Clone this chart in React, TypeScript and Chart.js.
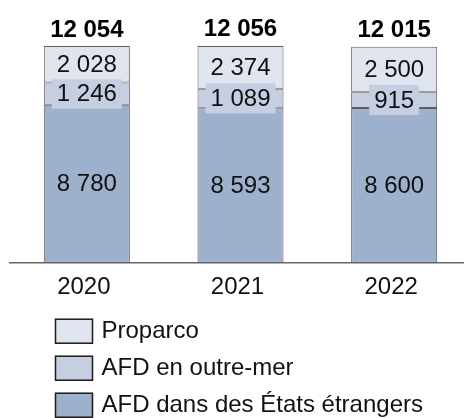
import React, { useEffect, useRef } from 'react';
import { Chart, registerables } from 'chart.js';

Chart.register(...registerables);

const years = ['2020', '2021', '2022'];
const afdEtrangers = [8780, 8593, 8600];
const afdOutreMer = [1246, 1089, 915];
const proparco = [2028, 2374, 2500];
const totals = [12054, 12056, 12015];
const seriesNames = ['AFD dans des États étrangers', 'AFD en outre-mer', 'Proparco'];
const seriesColors = ['#9db0cc', '#c5cfe1', '#dfe4ee'];

const FAMILY = '"Liberation Sans", Arial, sans-serif';
const fmt = (v: number) => String(v).replace(/\B(?=(\d{3})+(?!\d))/g, ' ');

const labelPlugin = {
  id: 'segLabels',
  afterDatasetsDraw(chart: any) {
    const ctx = chart.ctx;
    ctx.save();
    ctx.font = `24px ${FAMILY}`;
    ctx.textAlign = 'center';
    ctx.textBaseline = 'middle';
    chart.data.datasets.forEach((ds: any, di: number) => {
      const meta = chart.getDatasetMeta(di);
      meta.data.forEach((bar: any, i: number) => {
        const { x, y, base } = bar.getProps(['x', 'y', 'base'], true);
        const cy = (y + base) / 2;
        const text = fmt(ds.data[i]);
        const w = ctx.measureText(text).width + 10;
        const h = 30;
        ctx.fillStyle = ds.backgroundColor;
        ctx.fillRect(x - w / 2, cy - h / 2, w, h);
        ctx.fillStyle = '#111111';
        ctx.fillText(text, x, cy + 1);
      });
    });
    ctx.font = `bold 24px ${FAMILY}`;
    ctx.textBaseline = 'alphabetic';
    const topMeta = chart.getDatasetMeta(chart.data.datasets.length - 1);
    topMeta.data.forEach((bar: any, i: number) => {
      const { x, y } = bar.getProps(['x', 'y'], true);
      ctx.fillStyle = '#000000';
      ctx.fillText(fmt(totals[i]), x, y - 9.5);
    });
    ctx.restore();
  },
};

const legendPlugin = {
  id: 'vertLegend',
  afterDraw(chart: any) {
    const ctx = chart.ctx;
    const ds = [...chart.data.datasets].reverse();
    const top0 = chart.chartArea.bottom + 56;
    ctx.save();
    ctx.font = `24px ${FAMILY}`;
    ctx.textAlign = 'left';
    ctx.textBaseline = 'middle';
    ds.forEach((d: any, k: number) => {
      const y = top0 + k * 37;
      ctx.fillStyle = d.backgroundColor;
      ctx.fillRect(55.5, y + 0.5, 37, 24);
      ctx.strokeStyle = '#1a1a1a';
      ctx.lineWidth = 1.5;
      ctx.strokeRect(55.5, y + 0.5, 37, 24);
      ctx.fillStyle = '#111111';
      ctx.fillText(d.label, 101.5, y + 13);
    });
    ctx.restore();
  },
};

export default function App() {
  const ref = useRef<HTMLCanvasElement | null>(null);
  useEffect(() => {
    if (!ref.current) return;
    Chart.defaults.font.family = FAMILY;
    const data = [afdEtrangers, afdOutreMer, proparco];
    const chart = new Chart(ref.current, {
      type: 'bar',
      data: {
        labels: years,
        datasets: data.map((d, i) => ({
          label: seriesNames[i],
          data: d,
          backgroundColor: seriesColors[i],
          borderColor: '#5f5f5f',
          borderWidth: 1,
          borderSkipped: false,
          barPercentage: 0.56,
          categoryPercentage: 1,
        })),
      },
      options: {
        responsive: false,
        animation: false,
        layout: { padding: { left: 10, right: 9, top: 38, bottom: 106.5 } },
        plugins: { legend: { display: false }, tooltip: { enabled: false } },
        scales: {
          x: {
            stacked: true,
            grid: { display: false, drawTicks: false },
            border: { display: true, color: '#666666', width: 1.5 },
            ticks: { font: { size: 24, family: FAMILY }, color: '#111111', padding: 10, labelOffset: -3 },
          },
          y: { stacked: true, display: false, min: 0, max: 12500 },
        },
      },
      plugins: [labelPlugin, legendPlugin],
    });
    return () => chart.destroy();
  }, []);
  return (
    <div style={{ position: 'absolute', left: 0, top: 0, width: 464, height: 418, overflow: 'hidden', background: '#fff' }}>
      <canvas ref={ref} width={480} height={418} style={{ width: 480, height: 418, display: 'block' }} />
    </div>
  );
}
